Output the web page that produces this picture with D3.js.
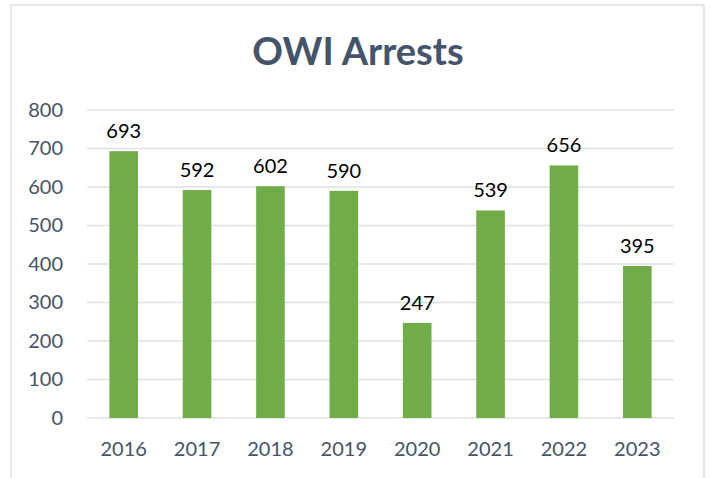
<!DOCTYPE html>
<html>
<head>
<meta charset="utf-8">
<script src="https://cdn.jsdelivr.net/npm/d3@7"></script>
<style>
  html, body { margin: 0; padding: 0; background: #fff; }
  svg { display: block; font-family: Lato, "Open Sans", sans-serif; }
</style>
</head>
<body>
<svg id="chart" width="713" height="478"></svg>
<script>
// chart data
var years = ['2016', '2017', '2018', '2019', '2020', '2021', '2022', '2023'];
var arrests = [693, 592, 602, 590, 247, 539, 656, 395];
var yTicks = [0, 100, 200, 300, 400, 500, 600, 700, 800];
var chartTitle = 'OWI Arrests';

var svg = d3.select('#chart');
var plot = {left: 87, right: 674, top: 110, bottom: 418};

// outer frame (bottom edge is cut off in the picture)
svg.append('path')
  .attr('d', 'M11,480 L11,5 L704,5 L704,480')
  .attr('fill', 'none')
  .attr('stroke', '#DADFE6')
  .attr('stroke-width', 1.5);

svg.append('text')
  .attr('x', 358)
  .attr('y', 65)
  .attr('text-anchor', 'middle')
  .attr('font-size', 38)
  .attr('font-weight', 700)
  .attr('fill', '#44546A')
  .text(chartTitle);

var x = d3.scaleBand()
  .domain(years)
  .range([plot.left, plot.right])
  .paddingInner(0.61)
  .paddingOuter(0.305);

var y = d3.scaleLinear()
  .domain([0, 800])
  .range([plot.bottom, plot.top]);

// gridlines
svg.append('g')
  .selectAll('line')
  .data(yTicks)
  .join('line')
  .attr('x1', plot.left)
  .attr('x2', plot.right)
  .attr('y1', function(d) { return y(d); })
  .attr('y2', function(d) { return y(d); })
  .attr('stroke', '#DDE1E7')
  .attr('stroke-width', 1.5);

// y axis labels
var yAxis = svg.append('g')
  .attr('transform', 'translate(' + (plot.left - 24) + ',0)')
  .call(d3.axisLeft(y).tickValues(yTicks).tickSize(0).tickPadding(0));
yAxis.select('.domain').remove();
yAxis.selectAll('text')
  .attr('font-size', 20)
  .attr('font-family', 'Lato, sans-serif')
  .attr('fill', '#44546A');

// bars
svg.append('g')
  .selectAll('rect')
  .data(arrests)
  .join('rect')
  .attr('x', function(d, i) { return x(years[i]); })
  .attr('y', function(d) { return y(d); })
  .attr('width', x.bandwidth())
  .attr('height', function(d) { return y(0) - y(d); })
  .attr('fill', '#70AD47');

// value labels
svg.append('g')
  .selectAll('text')
  .data(arrests)
  .join('text')
  .attr('x', function(d, i) { return x(years[i]) + x.bandwidth() / 2; })
  .attr('y', function(d) { return y(d) - 13; })
  .attr('text-anchor', 'middle')
  .attr('font-size', 20)
  .attr('fill', '#000')
  .text(function(d) { return d; });

// x axis
var xAxis = svg.append('g')
  .attr('transform', 'translate(0,' + plot.bottom + ')')
  .call(d3.axisBottom(x).tickSize(0).tickPadding(24));
xAxis.select('.domain').remove();
xAxis.selectAll('text')
  .attr('font-size', 20)
  .attr('font-family', 'Lato, sans-serif')
  .attr('fill', '#44546A');
</script>
</body>
</html>
